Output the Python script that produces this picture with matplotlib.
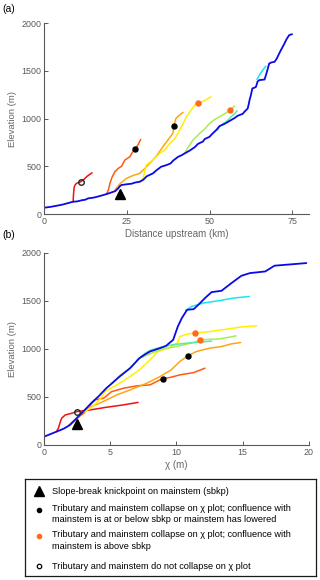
import matplotlib
matplotlib.use("Agg")
import matplotlib.pyplot as plt

plt.rcParams['font.family'] = ['Liberation Sans', 'DejaVu Sans']

# ---- panel (a): distance upstream (km) vs elevation (m)
ms_a_x = [0, 2, 4, 5.5, 7, 8.8, 10, 11.5, 12.5, 13.3, 15, 16.5, 18, 18.9, 20, 21.5, 22.4, 23, 23.4, 25,
          26.5, 27.5, 28.9, 30, 31, 32.9, 34, 35.4, 37, 38.2, 39, 40.5, 41.5, 42.5, 44, 45.5, 46.5, 48,
          48.5, 50, 50.5, 52, 52.6, 53, 54.5, 55.5, 56.5, 57.5, 58.5, 60, 60.5, 61.5, 61.8, 62.1, 62.5,
          62.9, 63.6, 64, 64.5, 65, 66.6, 67.3, 68, 68.8, 69.6, 70.3, 71, 71.8, 72.6, 73.2, 74, 74.9]
ms_a_y = [66, 75, 88, 98, 112, 129, 132, 145, 150, 164, 172, 185, 200, 209, 222, 240, 269, 295, 304, 312,
          318, 330, 338, 360, 395, 426, 460, 496, 513, 530, 560, 600, 615, 636, 665, 700, 735, 760,
          785, 810, 830, 880, 905, 921, 945, 965, 985, 1005, 1030, 1050, 1071, 1106, 1150, 1200, 1250,
          1316, 1325, 1333, 1390, 1403, 1410, 1490, 1578, 1590, 1595, 1630, 1682, 1735, 1787, 1830, 1874, 1885]

red_a_x = [8.8, 8.9, 9.1, 9.4, 9.8, 10.5, 11.1, 12, 13, 14.5]
red_a_y = [129, 200, 280, 305, 321, 332, 338, 362, 395, 432]
redor_a_x = [18.9, 19.5, 19.9, 20.6, 21.4, 22.4, 23.4, 24.4, 25.9, 26.6, 27.4, 28.3, 29.2]
redor_a_y = [209, 260, 321, 390, 443, 478, 500, 565, 600, 640, 684, 720, 782]
orange_a_x = [21.4, 23, 24.9, 27, 28.9, 30.5, 32.4, 34, 35.9, 37.5, 38.9, 39.2, 39.8, 41, 42]
orange_a_y = [251, 320, 374, 405, 426, 480, 548, 610, 705, 780, 845, 925, 1000, 1040, 1065]
yellow_a_x = [28.9, 29.9, 30.4, 30.9, 33.4, 35, 36.4, 38, 39.5, 41, 43, 45.5, 46.5, 48.5, 50.4]
yellow_a_y = [338, 363, 450, 513, 583, 636, 670, 740, 790, 880, 1019, 1141, 1159, 1190, 1228]
ygreen_a_x = [42.5, 43.5, 45, 47, 48.5, 50, 51.5, 53, 55.5, 56.2, 57.5]
ygreen_a_y = [636, 700, 775, 845, 890, 950, 990, 1019, 1071, 1086, 1131]
aqua_a_x = [52.5, 53, 54, 55, 56.5, 57.5, 58.3]
aqua_a_y = [880, 921, 945, 966, 1019, 1050, 1082]
cyan_a_x = [64.3, 65, 66, 67]
cyan_a_y = [1410, 1455, 1508, 1550]

kp_a = (22.9, 205)
black_a_x, black_a_y = [27.4, 39.2], [684, 925]
orpt_a_x, orpt_a_y = [46.5, 56.2], [1159, 1086]
open_a_x, open_a_y = [11.1], [338]

# ---- panel (b): chi (m) vs elevation (m)
ms_b_x = [0, 0.95, 1.5, 1.96, 2.46, 3.2, 3.6, 4.1, 4.7, 5.2, 5.7, 6.5, 7.2, 7.6, 8.0, 8.75, 9.2, 9.75,
          10.1, 10.4, 10.8, 11.3, 11.65, 12.15, 12.65, 13.4, 14.15, 14.9, 15.55, 16.7, 17.4, 18.3, 19.8]
ms_b_y = [86, 139, 170, 208, 278, 382, 440, 503, 590, 650, 711, 799, 903, 940, 972, 1007, 1030, 1094,
          1232, 1319, 1406, 1413, 1458, 1528, 1590, 1604, 1684, 1760, 1788, 1805, 1865, 1875, 1892]

red_b_x = [0.95, 1.1, 1.2, 1.33, 1.6, 2.1, 2.46, 3.5, 4.7, 6.0, 7.1]
red_b_y = [139, 180, 226, 278, 312, 330, 347, 365, 392, 417, 443]
redor_b_x = [1.9, 2.5, 3.0, 3.5, 3.85, 4.5, 5.1, 6.0, 7.0, 8.0, 8.75, 8.95, 9.6, 10.25, 11.3, 12.15]
redor_b_y = [210, 280, 330, 417, 469, 486, 555, 590, 615, 625, 677, 688, 705, 729, 753, 799]
orange_b_x = [2.2, 2.7, 3.2, 4.2, 5.5, 6.5, 7.75, 8.75, 9.6, 10.25, 10.85, 11.5, 12.5, 13.4, 14.15, 14.85]
orange_b_y = [235, 300, 382, 434, 521, 573, 642, 711, 781, 868, 927, 972, 1007, 1024, 1052, 1066]
yellow_b_x = [2.9, 3.5, 4.2, 4.6, 5.5, 6.5, 7.2, 8.0, 8.6, 9.4, 10.1, 10.25, 10.9, 11.4, 12.5, 13.8, 14.8, 16.05]
yellow_b_y = [338, 380, 470, 555, 625, 711, 781, 885, 972, 1007, 1066, 1128, 1156, 1163, 1180, 1205, 1226, 1240]
ygreen_b_x = [5.1, 5.7, 6.5, 7.2, 7.7, 8.3, 9.0, 10.0, 11.3, 11.8, 13.3, 14.5]
ygreen_b_y = [636, 720, 800, 900, 930, 965, 1000, 1024, 1066, 1094, 1104, 1135]
aqua_b_x = [7.0, 7.6, 8.0, 8.75, 9.6, 10.5, 11.5, 12.65]
aqua_b_y = [880, 950, 985, 1015, 1040, 1055, 1068, 1080]
cyan_b_x = [10.7, 11.15, 12.0, 13.3, 14.3, 15.5]
cyan_b_y = [1400, 1441, 1476, 1503, 1528, 1545]

kp_b = (2.5, 219)
black_b_x, black_b_y = [8.95, 10.85], [688, 927]
orpt_b_x, orpt_b_y = [11.4, 11.8], [1163, 1090]
open_b_x, open_b_y = [2.46], [347]

legend_labels = [
    "Slope-break knickpoint on mainstem (sbkp)",
    "Tributary and mainstem collapse on \u03c7 plot; confluence with\nmainstem is at or below sbkp or mainstem has lowered",
    "Tributary and mainstem collapse on \u03c7 plot; confluence with\nmainstem is above sbkp",
    "Tributary and mainstem do not collapse on \u03c7 plot",
]

C_MAIN = '#0a0ae8'
C_CYAN = '#18e6f5'
C_AQUA = '#55eaa5'
C_YGRN = '#a8ee50'
C_YEL = '#fff000'
C_ORA = '#ffa512'
C_REDOR = '#ff5a10'
C_RED = '#f01010'
C_DOT = '#ff6a1e'
AXC = '0.35'

fig = plt.figure(figsize=(3.2, 5.8), dpi=100)
ax_a = fig.add_axes([0.1375, 0.631, 0.828, 0.329])
ax_b = fig.add_axes([0.1375, 0.2328, 0.828, 0.3315])


def style(ax):
    for s in ['top', 'right']:
        ax.spines[s].set_visible(False)
    for s in ['left', 'bottom']:
        ax.spines[s].set_color(AXC)
        ax.spines[s].set_linewidth(0.8)
    ax.tick_params(direction='in', length=3, width=0.7, colors=AXC, labelsize=6.4, pad=2)
    ax.set_ylim(0, 2000)
    ax.set_yticks([0, 500, 1000, 1500, 2000])
    ax.set_ylabel("Elevation (m)", fontsize=6.8, color='0.4', labelpad=3)


def draw(ax, tribs, ms, kp, blk, orp, opn):
    for (x, y, c) in tribs:
        ax.plot(x, y, color=c, lw=1.1, solid_capstyle='round')
    ax.plot(ms[0], ms[1], color=C_MAIN, lw=1.3, solid_capstyle='round')
    ax.plot(*kp, marker='^', color='k', ms=7, ls='none', clip_on=False)
    ax.plot(blk[0], blk[1], 'o', color='k', ms=3.6)
    ax.plot(orp[0], orp[1], 'o', color=C_DOT, ms=3.6)
    ax.plot(opn[0], opn[1], 'o', mfc='none', mec='0.15', mew=1.0, ms=4)


draw(ax_a,
     [(red_a_x, red_a_y, C_RED), (redor_a_x, redor_a_y, C_REDOR), (orange_a_x, orange_a_y, C_ORA),
      (yellow_a_x, yellow_a_y, C_YEL), (ygreen_a_x, ygreen_a_y, C_YGRN), (aqua_a_x, aqua_a_y, C_AQUA),
      (cyan_a_x, cyan_a_y, C_CYAN)],
     (ms_a_x, ms_a_y), kp_a, (black_a_x, black_a_y), (orpt_a_x, orpt_a_y), (open_a_x, open_a_y))
style(ax_a)
ax_a.set_xlim(0, 80)
ax_a.set_xticks([0, 25, 50, 75])
ax_a.set_xlabel("Distance upstream (km)", fontsize=7, color='0.4', labelpad=2)

draw(ax_b,
     [(red_b_x, red_b_y, C_RED), (redor_b_x, redor_b_y, C_REDOR), (orange_b_x, orange_b_y, C_ORA),
      (yellow_b_x, yellow_b_y, C_YEL), (ygreen_b_x, ygreen_b_y, C_YGRN), (aqua_b_x, aqua_b_y, C_AQUA),
      (cyan_b_x, cyan_b_y, C_CYAN)],
     (ms_b_x, ms_b_y), kp_b, (black_b_x, black_b_y), (orpt_b_x, orpt_b_y), (open_b_x, open_b_y))
style(ax_b)
ax_b.set_xlim(0, 20)
ax_b.set_xticks([0, 5, 10, 15, 20])
ax_b.set_xlabel("\u03c7 (m)", fontsize=7, color='0.4', labelpad=2)

fig.text(0.008, 0.993, "(a)", fontsize=7.5, va='top')
fig.text(0.008, 0.603, "(b)", fontsize=7.5, va='top')

# legend box drawn as its own axes (coordinates in figure pixels, y downwards)
lg = fig.add_axes([0.078, 0.0069, 0.9095, 0.1672])
lg.set_xlim(25, 316)
lg.set_ylim(576, 479)
lg.set_xticks([])
lg.set_yticks([])
for s in lg.spines.values():
    s.set_linewidth(0.9)
    s.set_color('0.1')
mk_y = [491, 510, 536, 566]
tx_y = [491, 507.7, 534.3, 566]
lg.plot(39, mk_y[0], marker='^', color='k', ms=6.5)
lg.plot(39, mk_y[1], 'o', color='k', ms=3)
lg.plot(39, mk_y[2], 'o', color=C_DOT, ms=3)
lg.plot(39, mk_y[3], 'o', mfc='none', mec='k', mew=0.9, ms=3.2)
for ty, lab in zip(tx_y, legend_labels):
    lg.text(52.5, ty - 3.9, lab, fontsize=6.6, va='top', ha='left', linespacing=1.32)

fig.savefig("out.png", dpi=100)
